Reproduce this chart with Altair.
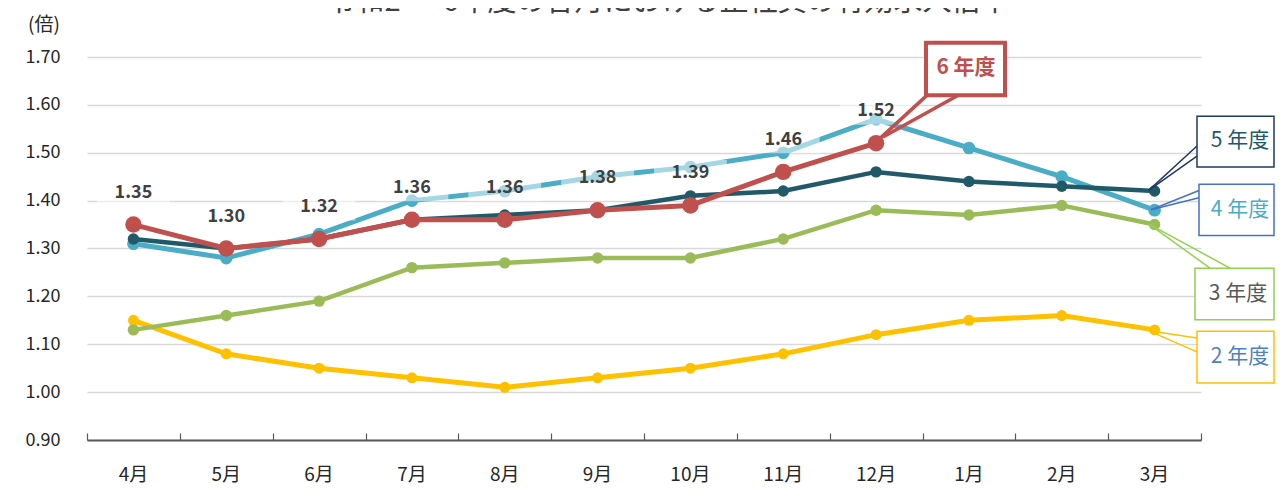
import altair as alt
import pandas as pd

# ---------------- data ----------------
months = ["4月", "5月", "6月", "7月", "8月", "9月", "10月", "11月", "12月", "1月", "2月", "3月"]
series_names = ["2年度", "3年度", "4年度", "5年度", "6年度"]
r2 = [1.15, 1.08, 1.05, 1.03, 1.01, 1.03, 1.05, 1.08, 1.12, 1.15, 1.16, 1.13]
r3 = [1.13, 1.16, 1.19, 1.26, 1.27, 1.28, 1.28, 1.32, 1.38, 1.37, 1.39, 1.35]
r4 = [1.31, 1.28, 1.33, 1.40, 1.42, 1.45, 1.47, 1.50, 1.57, 1.51, 1.45, 1.38]
r5 = [1.32, 1.30, 1.32, 1.36, 1.37, 1.38, 1.41, 1.42, 1.46, 1.44, 1.43, 1.42]
r6 = [1.35, 1.30, 1.32, 1.36, 1.36, 1.38, 1.39, 1.46, 1.52]
y_ticks = [0.90, 1.00, 1.10, 1.20, 1.30, 1.40, 1.50, 1.60, 1.70]
title_text = "令和2 ～ 6年度の各月における正社員の有効求人倍率"
unit_text = "(倍)"
callout_texts = ["2 年度", "3 年度", "4 年度", "5 年度", "6 年度"]

values = [r2, r3, r4, r5, r6]
rows = []
for name, vals in zip(series_names, values):
    for m, v in zip(months, vals):
        rows.append({"series": name, "month": m, "value": v})
df = pd.DataFrame(rows)

# ---------------- styles ----------------
FONT = "Noto Sans CJK JP"
colors = {"2年度": "#FFC000", "3年度": "#9BBB59", "4年度": "#4BACC6",
          "5年度": "#215968", "6年度": "#C0504D"}
widths = {"2年度": 5, "3年度": 4.5, "4年度": 5, "5年度": 4.5, "6年度": 5}
sizes = {"2年度": 120, "3年度": 130, "4年度": 160, "5年度": 130, "6年度": 270}

W, H = 1114, 383
yscale = alt.Scale(domain=[0.9, 1.7], nice=False, zero=False)
xscale = alt.Scale(type="band", paddingInner=0, paddingOuter=0)

y_axis = alt.Axis(values=y_ticks, format=".2f", title=None, domain=False, ticks=False,
                  grid=True, gridColor="#D9D9D9", gridWidth=1.5, labelFont=FONT,
                  labelFontSize=18, labelColor="#262626", labelPadding=27)
x_axis_labels = alt.Axis(orient="bottom", title=None, domain=False, ticks=False, grid=False,
                         labelFont=FONT, labelFontSize=19, labelColor="#262626",
                         labelPadding=25, labelAngle=0)
x_axis_ticks = alt.Axis(orient="top", offset=-H, title=None, labels=False, grid=False,
                        domain=True, domainColor="#595959", domainWidth=2,
                        ticks=True, tickSize=7, tickColor="#595959", tickWidth=1.2,
                        tickBand="extent")


def Y(field="value:Q"):
    return alt.Y(field, scale=yscale, axis=y_axis)


layers = []
for i, name in enumerate(series_names):
    d = df[df.series == name]
    if i == 0:
        xa = x_axis_labels
    elif i == 1:
        xa = x_axis_ticks
    else:
        xa = None
    enc_x = alt.X("month:N", sort=months, scale=xscale, axis=xa)
    line = alt.Chart(d).mark_line(color=colors[name], strokeWidth=widths[name]).encode(x=enc_x, y=Y())
    pts = alt.Chart(d).mark_circle(color=colors[name], opacity=1, size=sizes[name]).encode(
        x=alt.X("month:N", sort=months, scale=xscale, axis=None), y=Y())
    layers += [line, pts]

# value labels for 6年度
d6 = df[df.series == "6年度"]
lab_x = alt.X("month:N", sort=months, scale=xscale, axis=None)
box = alt.Chart(d6).mark_point(shape="M-1,-0.37L1,-0.37L1,0.37L-1,0.37Z", size=5300,
                               filled=True, fill="white", opacity=0.5, strokeWidth=0,
                               yOffset=-32).encode(x=lab_x, y=Y())
labels = alt.Chart(d6).mark_text(font=FONT, fontSize=18, fontWeight="bold", color="#404040",
                                 dy=-32).encode(x=lab_x, y=Y(),
                                                text=alt.Text("value:Q", format=".2f"))
layers += [box, labels]

empty = alt.Data(values=[{}])


def rule(x1, y1, x2, y2, color, w):
    return alt.Chart(empty).mark_rule(color=color, strokeWidth=w).encode(
        x=alt.value(x1), x2=alt.value(x2),
        y=alt.YDatum(y1, scale=yscale, axis=y_axis), y2=alt.Y2Datum(y2))


def rect(x1, x2, ytop, ybot, stroke, sw):
    return alt.Chart(empty).mark_rect(fill="white", stroke=stroke, strokeWidth=sw).encode(
        x=alt.value(x1), x2=alt.value(x2),
        y=alt.YDatum(ytop, scale=yscale, axis=y_axis), y2=alt.Y2Datum(ybot))


def ctext(x, y, txt, color, bold=False, size=21):
    return alt.Chart(empty).mark_text(font=FONT, fontSize=size, color=color,
                                      fontWeight="bold" if bold else "normal",
                                      baseline="middle", align="center").encode(
        x=alt.value(x), y=alt.YDatum(y, scale=yscale, axis=y_axis), text=alt.value(txt))


# callouts (x in pixels from plot left, y in data units)
layers += [
    rule(841, 1.622, 793, 1.530, "#C0504D", 3.5),
    rule(873, 1.622, 796, 1.533, "#C0504D", 3.5),
    rect(839, 918, 1.730, 1.620, "#C0504D", 4),
    ctext(879, 1.676, callout_texts[4], "#C0504D", bold=True, size=21),
]
layers += [
    rule(1110, 1.514, 1062, 1.422, "#1F3864", 1.5),
    rule(1110, 1.493, 1062, 1.422, "#1F3864", 1.5),
    rect(1110, 1187, 1.576, 1.470, "#1F3864", 1.5),
    ctext(1153, 1.524, callout_texts[3], "#215968"),
]
layers += [
    rule(1112, 1.421, 1064, 1.381, "#4472C4", 1.5),
    rule(1112, 1.406, 1064, 1.381, "#4472C4", 1.5),
    rect(1112, 1187, 1.434, 1.327, "#4472C4", 1.5),
    ctext(1153, 1.381, callout_texts[2], "#4BACC6"),
]
layers += [
    rule(1062, 1.351, 1123, 1.259, "#92D050", 1.5),
    rule(1062, 1.351, 1143, 1.259, "#92D050", 1.5),
    rect(1108, 1187, 1.259, 1.151, "#92D050", 1.5),
    ctext(1151, 1.205, callout_texts[1], "#595959"),
]
layers += [
    rule(1062, 1.128, 1110, 1.113, "#FFC000", 1.5),
    rule(1062, 1.128, 1110, 1.084, "#FFC000", 1.5),
    rect(1110, 1187, 1.127, 1.019, "#FFC000", 1.5),
    ctext(1153, 1.073, callout_texts[0], "#4F81BD"),
]

title = alt.Chart(empty).mark_text(font=FONT, fontSize=29, color="#404040", baseline="bottom",
                                   align="center").encode(
    x=alt.value(581), y=alt.value(-40), text=alt.value(title_text))
unit = alt.Chart(empty).mark_text(font=FONT, fontSize=19, color="#262626", baseline="middle",
                                  align="center").encode(
    x=alt.value(-43), y=alt.value(-32), text=alt.value(unit_text))
layers += [title, unit]

chart = alt.layer(*layers).resolve_axis(x="independent").properties(
    width=W, height=H,
    background="white",
    padding={"left": 79, "top": 49, "right": 75, "bottom": 47},
    autosize=alt.AutoSizeParams(type="none"),
).configure_view(stroke=None)

chart.save("out.html", embed_options={"renderer": "svg", "actions": False})
